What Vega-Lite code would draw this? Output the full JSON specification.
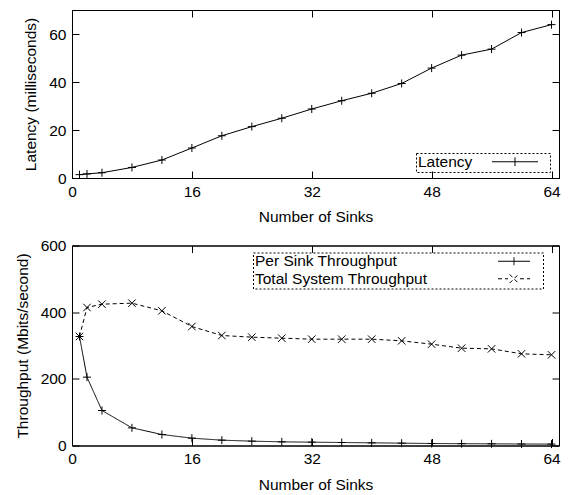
{
  "$schema": "https://vega.github.io/schema/vega-lite/v6.json",
  "padding": {"left": 14, "top": 9, "right": 0, "bottom": 0},
  "spacing": 11.5,
  "config": {
    "font": "Liberation Sans",
    "view": {"stroke": "black", "strokeWidth": 1},
    "axis": {
      "domainColor": "black", "tickColor": "black", "labelColor": "black", "titleColor": "black",
      "grid": false, "labelFontSize": 15.5, "titleFontSize": 15.5, "titleFontWeight": "normal",
      "tickSize": -7, "labelFlush": false, "labelPadding": 13, "titlePadding": 10,
      "domainWidth": 1, "tickWidth": 1, "labelFont": "Liberation Sans", "titleFont": "Liberation Sans"
    },
    "axisY": {"minExtent": 0, "titlePadding": 10},
    "axisX": {"minExtent": 0},
    "legend": {"labelColor": "black", "labelFont": "Liberation Sans", "labelFontSize": 15.5}
  },
  "resolve": {"legend": {"stroke": "independent", "strokeDash": "independent"}},
  "datasets": {
    "latency": [
      {"sinks": 1, "latency": 1.4, "series": "Latency"},
      {"sinks": 2, "latency": 1.7, "series": "Latency"},
      {"sinks": 4, "latency": 2.2, "series": "Latency"},
      {"sinks": 8, "latency": 4.4, "series": "Latency"},
      {"sinks": 12, "latency": 7.5, "series": "Latency"},
      {"sinks": 16, "latency": 12.5, "series": "Latency"},
      {"sinks": 20, "latency": 17.6, "series": "Latency"},
      {"sinks": 24, "latency": 21.4, "series": "Latency"},
      {"sinks": 28, "latency": 24.9, "series": "Latency"},
      {"sinks": 32, "latency": 28.75, "series": "Latency"},
      {"sinks": 36, "latency": 32.2, "series": "Latency"},
      {"sinks": 40, "latency": 35.3, "series": "Latency"},
      {"sinks": 44, "latency": 39.4, "series": "Latency"},
      {"sinks": 48, "latency": 45.8, "series": "Latency"},
      {"sinks": 52, "latency": 51.2, "series": "Latency"},
      {"sinks": 56, "latency": 53.7, "series": "Latency"},
      {"sinks": 60, "latency": 60.6, "series": "Latency"},
      {"sinks": 64, "latency": 63.9, "series": "Latency"}
    ],
    "throughput": [
      {"sinks": 1, "series": "Per Sink Throughput", "value": 327},
      {"sinks": 2, "series": "Per Sink Throughput", "value": 205},
      {"sinks": 4, "series": "Per Sink Throughput", "value": 105},
      {"sinks": 8, "series": "Per Sink Throughput", "value": 53},
      {"sinks": 12, "series": "Per Sink Throughput", "value": 33},
      {"sinks": 16, "series": "Per Sink Throughput", "value": 22},
      {"sinks": 20, "series": "Per Sink Throughput", "value": 16},
      {"sinks": 24, "series": "Per Sink Throughput", "value": 13},
      {"sinks": 28, "series": "Per Sink Throughput", "value": 11},
      {"sinks": 32, "series": "Per Sink Throughput", "value": 10},
      {"sinks": 36, "series": "Per Sink Throughput", "value": 9},
      {"sinks": 40, "series": "Per Sink Throughput", "value": 8},
      {"sinks": 44, "series": "Per Sink Throughput", "value": 7},
      {"sinks": 48, "series": "Per Sink Throughput", "value": 6},
      {"sinks": 52, "series": "Per Sink Throughput", "value": 5.5},
      {"sinks": 56, "series": "Per Sink Throughput", "value": 5},
      {"sinks": 60, "series": "Per Sink Throughput", "value": 4.5},
      {"sinks": 64, "series": "Per Sink Throughput", "value": 4.2},
      {"sinks": 1, "series": "Total System Throughput", "value": 327},
      {"sinks": 2, "series": "Total System Throughput", "value": 414},
      {"sinks": 4, "series": "Total System Throughput", "value": 424},
      {"sinks": 8, "series": "Total System Throughput", "value": 427},
      {"sinks": 12, "series": "Total System Throughput", "value": 404},
      {"sinks": 16, "series": "Total System Throughput", "value": 357},
      {"sinks": 20, "series": "Total System Throughput", "value": 330},
      {"sinks": 24, "series": "Total System Throughput", "value": 325},
      {"sinks": 28, "series": "Total System Throughput", "value": 322},
      {"sinks": 32, "series": "Total System Throughput", "value": 319},
      {"sinks": 36, "series": "Total System Throughput", "value": 319},
      {"sinks": 40, "series": "Total System Throughput", "value": 319},
      {"sinks": 44, "series": "Total System Throughput", "value": 314},
      {"sinks": 48, "series": "Total System Throughput", "value": 304},
      {"sinks": 52, "series": "Total System Throughput", "value": 292},
      {"sinks": 56, "series": "Total System Throughput", "value": 290},
      {"sinks": 60, "series": "Total System Throughput", "value": 275},
      {"sinks": 64, "series": "Total System Throughput", "value": 272}
    ]
  },
  "vconcat": [
    {
      "width": 487, "height": 168,
      "data": {"name": "latency"},
      "layer": [
        {
          "mark": {"type": "line", "strokeWidth": 1},
          "encoding": {
            "x": {"field": "sinks", "type": "quantitative", "scale": {"domain": [0, 64]},
                  "axis": {"values": [0, 16, 32, 48, 64], "title": "Number of Sinks"}},
            "y": {"field": "latency", "type": "quantitative", "scale": {"domain": [0, 70]},
                  "axis": {"values": [0, 20, 40, 60], "title": "Latency (milliseconds)"}},
            "stroke": {"field": "series", "type": "nominal", "scale": {"range": ["black"]},
              "legend": {
                "title": null, "orient": "none", "legendX": 344, "legendY": 143,
                "symbolType": "M-5.75,0L5.75,0M0,-1.1L0,1.1M8,0", "symbolSize": 64,
                "symbolStrokeWidth": 1, "symbolStrokeColor": "black", "symbolFillColor": "transparent",
                "symbolOffset": 90.25, "labelOffset": -104.75, "padding": 1, "rowPadding": 0,
                "labelLimit": 300, "strokeColor": "black",
                "encode": {"legend": {"update": {"strokeDash": {"value": [2, 2]}, "strokeWidth": {"value": 1}}}}
              }}
          }
        },
        {
          "mark": {"type": "point", "shape": "M-1,0L1,0M0,-1L0,1", "filled": false, "color": "black", "strokeWidth": 1, "size": 64, "opacity": 1},
          "encoding": {
            "x": {"field": "sinks", "type": "quantitative", "axis": null},
            "y": {"field": "latency", "type": "quantitative", "axis": null}
          }
        },
        {
          "mark": {"type": "point", "opacity": 0},
          "encoding": {
            "x": {"field": "sinks", "type": "quantitative", "axis": {"orient": "top", "values": [0, 16, 32, 48, 64], "labels": false, "title": null}},
            "y": {"field": "latency", "type": "quantitative", "axis": {"orient": "right", "values": [0, 20, 40, 60], "labels": false, "title": null}}
          }
        }
      ],
      "resolve": {"axis": {"x": "independent", "y": "independent"}}
    },
    {
      "width": 487, "height": 200,
      "data": {"name": "throughput"},
      "layer": [
        {
          "mark": {"type": "line", "strokeWidth": 1, "color": "black"},
          "encoding": {
            "x": {"field": "sinks", "type": "quantitative", "scale": {"domain": [0, 64]},
                  "axis": {"values": [0, 16, 32, 48, 64], "title": "Number of Sinks"}},
            "y": {"field": "value", "type": "quantitative", "scale": {"domain": [0, 600]},
                  "axis": {"values": [0, 200, 400, 600], "title": "Throughput (Mbits/second)"}},
            "strokeDash": {"field": "series", "type": "nominal",
              "scale": {"domain": ["Per Sink Throughput", "Total System Throughput"], "range": [[1, 0], [4, 3]]},
              "legend": {
                "title": null, "orient": "none", "legendX": 181, "legendY": 7,
                "symbolType": "M-4,0L4,0M0,-1L0,1M6.5,0", "symbolSize": 64,
                "symbolStrokeWidth": 1, "symbolStrokeColor": "black", "symbolFillColor": "transparent",
                "symbolOffset": 252.25, "labelOffset": -266.75, "padding": 1, "rowPadding": 0.5,
                "labelLimit": 300, "strokeColor": "black",
                "encode": {
                  "legend": {"update": {"strokeDash": {"value": [2, 2]}, "strokeWidth": {"value": 1}}},
                  "symbols": {"update": {"shape": {"signal": "datum.value === 'Per Sink Throughput' ? 'M-4,0L4,0M0,-1L0,1M6.5,0' : 'M-4,0L-1.5,0M1.5,0L4,0M-1.1,-1.1L1.1,1.1M-1.1,1.1L1.1,-1.1M6.5,0'"}}}
                }
              }}
          }
        },
        {
          "transform": [{"filter": "datum.series === 'Per Sink Throughput'"}],
          "mark": {"type": "point", "shape": "M-1,0L1,0M0,-1L0,1", "filled": false, "color": "black", "strokeWidth": 1, "size": 64, "opacity": 1},
          "encoding": {
            "x": {"field": "sinks", "type": "quantitative", "axis": null},
            "y": {"field": "value", "type": "quantitative", "axis": null}
          }
        },
        {
          "transform": [{"filter": "datum.series === 'Total System Throughput'"}],
          "mark": {"type": "point", "shape": "M-1,-1L1,1M-1,1L1,-1", "filled": false, "color": "black", "strokeWidth": 1, "size": 56, "opacity": 1},
          "encoding": {
            "x": {"field": "sinks", "type": "quantitative", "axis": null},
            "y": {"field": "value", "type": "quantitative", "axis": null}
          }
        },
        {
          "mark": {"type": "point", "opacity": 0},
          "encoding": {
            "x": {"field": "sinks", "type": "quantitative", "axis": {"orient": "top", "values": [0, 16, 32, 48, 64], "labels": false, "title": null}},
            "y": {"field": "value", "type": "quantitative", "axis": {"orient": "right", "values": [0, 200, 400, 600], "labels": false, "title": null}}
          }
        }
      ],
      "resolve": {"axis": {"x": "independent", "y": "independent"}}
    }
  ]
}
